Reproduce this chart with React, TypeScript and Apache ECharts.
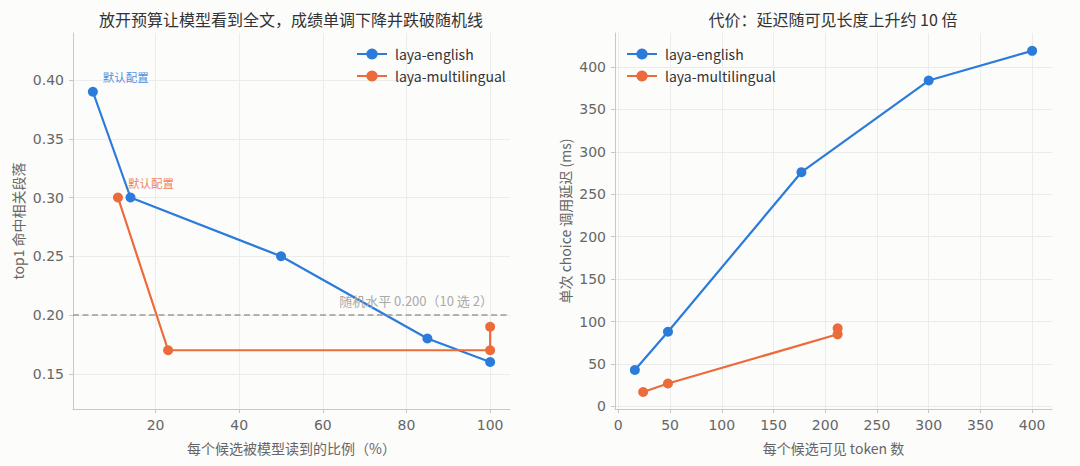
import React, { useEffect, useRef } from "react";
import * as echarts from "echarts";

// left panel: share of each candidate read vs top1 hit rate
const readPctEnglish = [5, 14, 50, 85, 100];
const top1English = [0.39, 0.3, 0.25, 0.18, 0.16];
const readPctMulti = [11, 23, 100, 100];
const top1Multi = [0.3, 0.17, 0.17, 0.19];

// right panel: visible tokens vs latency (ms)
const tokensEnglish = [16, 48, 177, 300, 400];
const latencyEnglish = [43, 88, 276, 384, 419];
const tokensMulti = [24, 48, 212, 212];
const latencyMulti = [17, 27, 85, 92];

const randomLevel = 0.2;
const leftXTicks = [20, 40, 60, 80, 100];
const leftYTicks = [0.15, 0.2, 0.25, 0.3, 0.35, 0.4];
const rightXTicks = [0, 50, 100, 150, 200, 250, 300, 350, 400];
const rightYTicks = [0, 50, 100, 150, 200, 250, 300, 350, 400];

const BLUE = "#2b7bda";
const ORANGE = "#ec6b3a";
const FONT = "'Noto Sans CJK SC', 'Noto Sans', sans-serif";
const TICK_FONT = "'DejaVu Sans', 'Noto Sans CJK SC', sans-serif";

const pairs = (xs: number[], ys: number[]) => xs.map((x, i) => [x, ys[i]]);

// first point of each curve carries the "默认配置" note
const withNote = (xs: number[], ys: number[], color: string) =>
  pairs(xs, ys).map((v, i) =>
    i === 0
      ? {
          value: v,
          label: {
            show: true,
            formatter: "默认配置",
            position: "right",
            distance: 4,
            offset: [1, -15],
            color,
            opacity: 0.85,
            fontSize: 11.5,
            fontFamily: FONT,
          },
        }
      : v
  );

const axisCommon = {
  axisLine: { show: true, onZero: false, lineStyle: { color: "#c8c8c8", width: 1 } },
  axisTick: { show: true, length: 4, lineStyle: { color: "#c8c8c8" } },
  splitLine: { show: true, lineStyle: { color: "#ececec", width: 1 } },
  nameLocation: "middle" as const,
  nameTextStyle: { color: "#666", fontSize: 14, fontFamily: FONT },
};

const labelStyle = { color: "#666", fontSize: 14, fontFamily: TICK_FONT };

const App: React.FC = () => {
  const chartRef = useRef<HTMLDivElement>(null);

  useEffect(() => {
    if (!chartRef.current) return;
    const chart = echarts.init(chartRef.current, undefined, { renderer: "svg" });

    const lineSeries = (name: string, color: string, data: any[], idx: number, extra = {}) => ({
      name,
      type: "line",
      xAxisIndex: idx,
      yAxisIndex: idx,
      data,
      symbol: "circle",
      symbolSize: 10,
      color,
      lineStyle: { width: 2.2, color },
      itemStyle: { color },
      silent: true,
      ...extra,
    });

    const titleStyle = { color: "#333", fontSize: 16, fontWeight: "normal", fontFamily: FONT };
    const legendBase = {
      orient: "vertical",
      top: 47,
      padding: 0,
      itemWidth: 30,
      itemHeight: 14,
      itemGap: 8,
      textStyle: { color: "#333", fontSize: 14, fontFamily: FONT, padding: [0, 0, 0, 3] },
      data: ["laya-english", "laya-multilingual"],
    };

    const option = {
      animation: false,
      backgroundColor: "#fcfcfb",
      textStyle: { fontFamily: FONT },
      title: [
        {
          text: "放开预算让模型看到全文，成绩单调下降并跌破随机线",
          left: 291,
          top: 11,
          padding: 0,
          textAlign: "center",
          textStyle: titleStyle,
        },
        {
          text: "代价：延迟随可见长度上升约 10 倍",
          left: 833,
          top: 11,
          padding: 0,
          textAlign: "center",
          textStyle: titleStyle,
        },
      ],
      legend: [
        { ...legendBase, left: 356 },
        { ...legendBase, left: 626 },
      ],
      grid: [
        { left: 73, right: 570, top: 33, bottom: 57 },
        { left: 615, right: 28, top: 33, bottom: 57 },
      ],
      xAxis: [
        {
          ...axisCommon,
          type: "value",
          gridIndex: 0,
          min: 0.25,
          max: 104.75,
          name: "每个候选被模型读到的比例（%）",
          nameGap: 32,
          axisTick: { ...axisCommon.axisTick, customValues: leftXTicks },
          axisLabel: { ...labelStyle, margin: 9, customValues: leftXTicks },
        },
        {
          ...axisCommon,
          type: "value",
          gridIndex: 1,
          min: -3.2,
          max: 419.2,
          name: "每个候选可见 token 数",
          nameGap: 32,
          axisTick: { ...axisCommon.axisTick, customValues: rightXTicks },
          axisLabel: { ...labelStyle, margin: 9, customValues: rightXTicks },
        },
      ],
      yAxis: [
        {
          ...axisCommon,
          type: "value",
          gridIndex: 0,
          min: 0.12,
          max: 0.44,
          name: "top1 命中相关段落",
          nameGap: 48,
          axisTick: { ...axisCommon.axisTick, customValues: leftYTicks },
          axisLabel: {
            ...labelStyle,
            margin: 9,
            customValues: leftYTicks,
            formatter: (v: number) => v.toFixed(2),
          },
        },
        {
          ...axisCommon,
          type: "value",
          gridIndex: 1,
          min: -3,
          max: 440,
          name: "单次 choice 调用延迟 (ms)",
          nameGap: 43,
          axisTick: { ...axisCommon.axisTick, customValues: rightYTicks },
          axisLabel: { ...labelStyle, margin: 9, customValues: rightYTicks },
        },
      ],
      series: [
        lineSeries("laya-english", BLUE, withNote(readPctEnglish, top1English, BLUE), 0, {
          markLine: {
            silent: true,
            symbol: ["none", "none"],
            lineStyle: { color: "#9a9a9a", width: 1.5, type: [6, 3.5] },
            label: {
              show: true,
              position: "insideEndTop",
              distance: [17, 8],
              formatter: "随机水平 0.200（10 选 2）",
              color: "#aaa",
              fontSize: 13,
              fontFamily: FONT,
            },
            data: [{ yAxis: randomLevel }],
          },
        }),
        lineSeries("laya-multilingual", ORANGE, withNote(readPctMulti, top1Multi, ORANGE), 0),
        lineSeries("laya-english", BLUE, pairs(tokensEnglish, latencyEnglish), 1),
        lineSeries("laya-multilingual", ORANGE, pairs(tokensMulti, latencyMulti), 1),
      ],
    };

    chart.setOption(option as any);

    return () => {
      chart.dispose();
    };
  }, []);

  return (
    <div
      ref={chartRef}
      style={{ position: "absolute", left: 0, top: 0, width: 1080, height: 466 }}
    />
  );
};

export default App;
